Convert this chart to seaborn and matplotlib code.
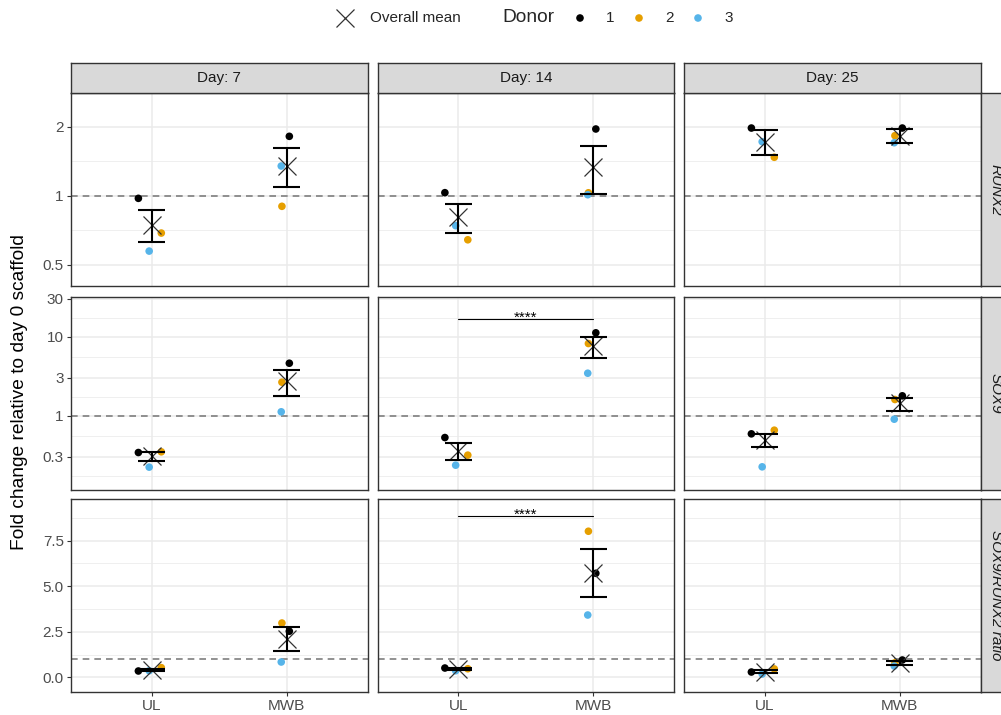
import numpy as np
import pandas as pd
import matplotlib
matplotlib.use("Agg")
import matplotlib.pyplot as plt
import matplotlib.transforms as mtransforms
from matplotlib.ticker import NullFormatter
import seaborn as sns

# ---------------------------------------------------------------- data
days = [7, 14, 25]
scaffolds = ["UL", "MWB"]
genes = ["RUNX2", "SOX9", "SOX9/RUNX2 ratio"]
donors = ["1", "2", "3"]
donor_colors = ["#000000", "#E69F00", "#56B4E9"]

# fold change per donor (1, 2, 3) for day 7, 14, 25
runx2_ul = [[0.974, 0.687, 0.573], [1.031, 0.642, 0.740], [1.975, 1.472, 1.721]]
runx2_mwb = [[1.817, 0.899, 1.348], [1.956, 1.030, 1.010], [1.975, 1.829, 1.704]]
sox9_ul = [[0.340, 0.347, 0.222], [0.526, 0.315, 0.235], [0.586, 0.652, 0.224]]
sox9_mwb = [[4.59, 2.64, 1.114], [11.14, 8.15, 3.43], [1.775, 1.594, 0.898]]
ratio_ul = [[0.346, 0.53, 0.36], [0.51, 0.47, 0.36], [0.29, 0.46, 0.18]]
ratio_mwb = [[2.53, 2.98, 0.84], [5.71, 8.02, 3.42], [0.95, 0.80, 0.62]]

# overall mean and standard error for day 7, 14, 25
runx2_mean_ul = [0.745, 0.804, 1.72]
runx2_se_ul = [0.119, 0.117, 0.21]
runx2_mean_mwb = [1.355, 1.332, 1.83]
runx2_se_mwb = [0.265, 0.312, 0.13]
sox9_mean_ul = [0.303, 0.359, 0.486]
sox9_se_ul = [0.041, 0.087, 0.089]
sox9_mean_mwb = [2.76, 7.57, 1.42]
sox9_se_mwb = [0.98, 2.24, 0.265]
ratio_mean_ul = [0.41, 0.45, 0.31]
ratio_se_ul = [0.06, 0.045, 0.08]
ratio_mean_mwb = [2.12, 5.72, 0.79]
ratio_se_mwb = [0.66, 1.33, 0.12]

# significance annotations: (gene, day, bracket height, label)
signif = [("SOX9", 14, 16.7, "****"), ("SOX9/RUNX2 ratio", 14, 8.86, "****")]

y_label = "Fold change relative to day 0 scaffold"
strip_prefix = "Day: "

# ---------------------------------------------------------------- tidy tables
values = {
    "RUNX2": (runx2_ul, runx2_mwb),
    "SOX9": (sox9_ul, sox9_mwb),
    "SOX9/RUNX2 ratio": (ratio_ul, ratio_mwb),
}
summ = {
    "RUNX2": ((runx2_mean_ul, runx2_se_ul), (runx2_mean_mwb, runx2_se_mwb)),
    "SOX9": ((sox9_mean_ul, sox9_se_ul), (sox9_mean_mwb, sox9_se_mwb)),
    "SOX9/RUNX2 ratio": ((ratio_mean_ul, ratio_se_ul), (ratio_mean_mwb, ratio_se_mwb)),
}

# fixed horizontal jitter per scaffold/donor
jitter = {"UL": [-0.10, 0.07, -0.02], "MWB": [0.02, -0.035, -0.04]}

rows = []
for g in genes:
    for si, sc in enumerate(scaffolds):
        for di, d in enumerate(days):
            for k, dn in enumerate(donors):
                rows.append(dict(gene=g, day=d, scaffold=sc, donor=dn,
                                 value=values[g][si][di][k],
                                 x=si + jitter[sc][k]))
points = pd.DataFrame(rows)

srows = []
for g in genes:
    for si, sc in enumerate(scaffolds):
        means, ses = summ[g][si]
        for di, d in enumerate(days):
            srows.append(dict(gene=g, day=d, scaffold=sc, x=si,
                              mean=means[di], se=ses[di]))
summary = pd.DataFrame(srows)

# ---------------------------------------------------------------- style
sns.set_style("white")
plt.rcParams["font.family"] = ["Liberation Sans", "DejaVu Sans"]

W, H = 1001, 715
fig = plt.figure(figsize=(W / 100, H / 100), dpi=100)


def px_axes(x, y, w, h, **kw):
    return fig.add_axes([x / W, 1 - (y + h) / H, w / W, h / H], **kw)


col_left = [71, 377.5, 684]
panel_w = 296.5
row_top = [93, 296.5, 499]
panel_h = 193
strip_h = 30.5

ylims = [(0.4034, 2.809), (0.1157, 32.1), (-0.807, 9.79)]
ymajor = [[0.5, 1, 2], [0.3, 1, 3, 10, 30], [0.0, 2.5, 5.0, 7.5]]
ylabels = [["0.5", "1", "2"], ["0.3", "1", "3", "10", "30"],
           ["0.0", "2.5", "5.0", "7.5"]]
yminor = [[0.7071, 1.4142], [0.1732, 0.5477, 1.7321, 5.4772, 17.3205],
          [1.25, 3.75, 6.25, 8.75]]
logrow = [True, True, False]

border = "#333333"
palette = dict(zip(donors, donor_colors))

for r, g in enumerate(genes):
    for c, d in enumerate(days):
        ax = px_axes(col_left[c], row_top[r], panel_w, panel_h)
        ax.set_facecolor("white")
        pts = points[(points.gene == g) & (points.day == d)]
        sm = summary[(summary.gene == g) & (summary.day == d)]

        if logrow[r]:
            ax.set_yscale("log")
        ax.set_xlim(-0.6, 1.6)
        ax.set_ylim(*ylims[r])

        # grid
        ax.set_xticks([0, 1])
        ax.set_yticks(ymajor[r])
        ax.set_yticks(yminor[r], minor=True)
        ax.yaxis.set_minor_formatter(NullFormatter())
        ax.set_xticks([], minor=True)
        ax.grid(which="major", color="#EBEBEB", lw=1.1, zorder=0)
        ax.grid(which="minor", axis="y", color="#EBEBEB", lw=0.55, zorder=0)
        ax.set_axisbelow(True)

        # reference line at fold change 1
        ax.axhline(1, color="#7F7F7F", lw=1.2, ls=(0, (4, 3)), zorder=1)

        # donor points
        sns.scatterplot(data=pts, x="x", y="value", hue="donor",
                        palette=palette, s=30, edgecolor="none",
                        legend=False, ax=ax, zorder=3)

        # overall mean
        ax.plot(sm["x"], sm["mean"], ls="none", marker="x", ms=13,
                mew=0.9, color="#333333", zorder=4)

        # mean +/- SE
        lo = sm["mean"] - sm["se"]
        hi = sm["mean"] + sm["se"]
        ax.vlines(sm["x"], lo, hi, color="black", lw=1.5, zorder=5)
        ax.hlines(lo, sm["x"] - 0.1, sm["x"] + 0.1, color="black", lw=1.5, zorder=5)
        ax.hlines(hi, sm["x"] - 0.1, sm["x"] + 0.1, color="black", lw=1.5, zorder=5)

        # significance brackets
        for sg, sd, yb, lab in signif:
            if sg == g and sd == d:
                ax.plot([0, 1], [yb, yb], color="black", lw=0.8, zorder=5)
                tr = mtransforms.offset_copy(ax.transData, fig=fig,
                                             x=0, y=-3, units="dots")
                ax.text(0.5, yb, lab, ha="center", va="baseline",
                        fontsize=11, color="black", transform=tr)

        ax.set_xlabel("")
        ax.set_ylabel("")
        for sp in ax.spines.values():
            sp.set_color(border)
            sp.set_linewidth(1.0)
            sp.set_visible(True)

        ax.tick_params(which="minor", length=0)
        ax.tick_params(which="major", length=3.2, width=0.8, color=border,
                       labelcolor="#4D4D4D", labelsize=11, pad=2,
                       left=(c == 0), bottom=(r == 2),
                       labelleft=(c == 0), labelbottom=(r == 2))
        if c == 0:
            ax.set_yticklabels(ylabels[r])
        if r == 2:
            ax.set_xticklabels(scaffolds)

        # top strips
        if r == 0:
            sax = px_axes(col_left[c], row_top[0] - strip_h, panel_w, strip_h)
            sax.set_facecolor("#D9D9D9")
            sax.set_xticks([])
            sax.set_yticks([])
            for sp in sax.spines.values():
                sp.set_color(border)
                sp.set_linewidth(1.0)
            sax.text(0.5, 0.5, f"{strip_prefix}{d}", ha="center", va="center",
                     fontsize=11, color="#1A1A1A", transform=sax.transAxes)

    # right strips (gene names in italics)
    rax = px_axes(col_left[2] + panel_w, row_top[r], 31, panel_h)
    rax.set_facecolor("#D9D9D9")
    rax.set_xticks([])
    rax.set_yticks([])
    for sp in rax.spines.values():
        sp.set_color(border)
        sp.set_linewidth(1.0)
    rax.text(0.5, 0.5, g, ha="center", va="center", rotation=-90,
             fontsize=11, fontstyle="italic", color="#1A1A1A",
             transform=rax.transAxes)

# y axis title
fig.text(20 / W, 1 - 392 / H, y_label, rotation=90, ha="center", va="center",
         fontsize=13.75, color="black")

# legend row
lax = fig.add_axes([0, 0, 1, 1], zorder=-5)
lax.set_xlim(0, W)
lax.set_ylim(H, 0)
lax.axis("off")
ly = 18
lax.plot([345], [ly], ls="none", marker="x", ms=13, mew=0.9, color="#333333")
lax.text(370, ly, "Overall mean", ha="left", va="center", fontsize=11)
lax.text(502, ly, "Donor", ha="left", va="center", fontsize=13.75)
for xd, xt, col, lab in zip([580, 639, 698], [606, 665, 724], donor_colors, donors):
    lax.scatter([xd], [ly], s=30, color=col, edgecolor="none")
    lax.text(xt, ly, lab, ha="left", va="center", fontsize=11)

fig.savefig("out.png", dpi=100)
